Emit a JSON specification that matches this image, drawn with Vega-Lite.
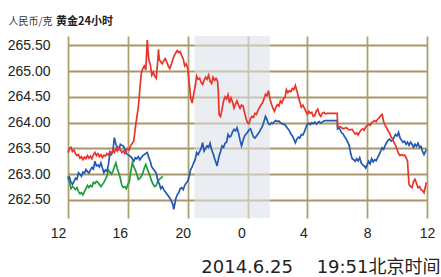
{
  "$schema": "https://vega.github.io/schema/vega-lite/v6.json",
  "width": 359,
  "height": 182,
  "autosize": "none",
  "padding": {"left": 68, "top": 36, "right": 14, "bottom": 59},
  "background": "white",
  "title": {"text": "黄金24小时", "anchor": "start", "frame": "group", "dx": -12, "dy": 32, "offset": 10, "fontSize": 11, "fontWeight": "bold", "font": "Noto Sans CJK SC", "color": "#222", "baseline": "bottom"},
  "config": {"view": {"stroke": null}},
  "datasets": {
    "band": [{"h": 20.45, "h2": 25.5}],
    "series": [
      {"s":"green","h":12.0,"v":262.96},{"s":"green","h":12.07,"v":262.87},{"s":"green","h":12.2,"v":262.72},{"s":"green","h":12.3,"v":262.76},{"s":"green","h":12.4,"v":262.74},{"s":"green","h":12.5,"v":262.70},{"s":"green","h":12.6,"v":262.74},{"s":"green","h":12.7,"v":262.66},{"s":"green","h":12.8,"v":262.62},{"s":"green","h":12.9,"v":262.64},{"s":"green","h":13.0,"v":262.60},{"s":"green","h":13.1,"v":262.66},{"s":"green","h":13.2,"v":262.72},{"s":"green","h":13.3,"v":262.78},{"s":"green","h":13.4,"v":262.74},{"s":"green","h":13.5,"v":262.78},{"s":"green","h":13.6,"v":262.76},{"s":"green","h":13.7,"v":262.84},{"s":"green","h":13.8,"v":262.82},{"s":"green","h":13.9,"v":262.86},{"s":"green","h":14.0,"v":262.84},{"s":"green","h":14.1,"v":262.80},{"s":"green","h":14.2,"v":262.76},{"s":"green","h":14.3,"v":262.80},{"s":"green","h":14.4,"v":262.84},{"s":"green","h":14.5,"v":262.90},{"s":"green","h":14.6,"v":262.96},{"s":"green","h":14.7,"v":263.08},{"s":"green","h":14.8,"v":263.04},{"s":"green","h":14.9,"v":263.00},{"s":"green","h":15.0,"v":263.06},{"s":"green","h":15.1,"v":263.14},{"s":"green","h":15.2,"v":263.22},{"s":"green","h":15.3,"v":263.10},{"s":"green","h":15.4,"v":263.02},{"s":"green","h":15.5,"v":262.92},{"s":"green","h":15.6,"v":262.78},{"s":"green","h":15.7,"v":262.74},{"s":"green","h":15.8,"v":262.76},{"s":"green","h":15.9,"v":262.72},{"s":"green","h":16.0,"v":262.80},{"s":"green","h":16.1,"v":262.86},{"s":"green","h":16.2,"v":263.06},{"s":"green","h":16.3,"v":263.22},{"s":"green","h":16.4,"v":263.14},{"s":"green","h":16.5,"v":263.08},{"s":"green","h":16.6,"v":263.00},{"s":"green","h":16.7,"v":262.90},{"s":"green","h":16.8,"v":262.92},{"s":"green","h":16.9,"v":262.96},{"s":"green","h":17.0,"v":263.02},{"s":"green","h":17.1,"v":263.12},{"s":"green","h":17.2,"v":263.19},{"s":"green","h":17.3,"v":263.10},{"s":"green","h":17.4,"v":263.03},{"s":"green","h":17.5,"v":262.95},{"s":"green","h":17.6,"v":262.86},{"s":"green","h":17.7,"v":262.80},{"s":"green","h":17.8,"v":262.76},{"s":"green","h":17.9,"v":262.78},{"s":"green","h":18.0,"v":262.86},{"s":"green","h":18.1,"v":262.90},{"s":"green","h":18.2,"v":262.92},{"s":"green","h":18.33,"v":262.96},

      {"s":"blue","h":12.0,"v":262.90},{"s":"blue","h":12.1,"v":262.94},{"s":"blue","h":12.2,"v":262.84},{"s":"blue","h":12.3,"v":262.80},{"s":"blue","h":12.4,"v":262.86},{"s":"blue","h":12.5,"v":262.92},{"s":"blue","h":12.6,"v":262.90},{"s":"blue","h":12.7,"v":263.03},{"s":"blue","h":12.8,"v":263.00},{"s":"blue","h":12.9,"v":262.96},{"s":"blue","h":13.0,"v":263.04},{"s":"blue","h":13.1,"v":263.02},{"s":"blue","h":13.2,"v":263.09},{"s":"blue","h":13.3,"v":263.05},{"s":"blue","h":13.4,"v":263.02},{"s":"blue","h":13.5,"v":263.08},{"s":"blue","h":13.6,"v":263.13},{"s":"blue","h":13.7,"v":263.10},{"s":"blue","h":13.8,"v":263.25},{"s":"blue","h":13.9,"v":263.16},{"s":"blue","h":14.0,"v":263.18},{"s":"blue","h":14.1,"v":263.14},{"s":"blue","h":14.2,"v":263.22},{"s":"blue","h":14.3,"v":263.12},{"s":"blue","h":14.4,"v":263.03},{"s":"blue","h":14.5,"v":263.08},{"s":"blue","h":14.6,"v":263.06},{"s":"blue","h":14.7,"v":263.18},{"s":"blue","h":14.8,"v":263.40},{"s":"blue","h":14.9,"v":263.38},{"s":"blue","h":15.0,"v":263.45},{"s":"blue","h":15.1,"v":263.71},{"s":"blue","h":15.2,"v":263.58},{"s":"blue","h":15.3,"v":263.52},{"s":"blue","h":15.4,"v":263.48},{"s":"blue","h":15.5,"v":263.58},{"s":"blue","h":15.6,"v":263.56},{"s":"blue","h":15.7,"v":263.55},{"s":"blue","h":15.8,"v":263.48},{"s":"blue","h":15.9,"v":263.40},{"s":"blue","h":16.0,"v":263.38},{"s":"blue","h":16.1,"v":263.36},{"s":"blue","h":16.2,"v":263.34},{"s":"blue","h":16.3,"v":263.30},{"s":"blue","h":16.4,"v":263.25},{"s":"blue","h":16.5,"v":263.32},{"s":"blue","h":16.6,"v":263.30},{"s":"blue","h":16.7,"v":263.34},{"s":"blue","h":16.8,"v":263.28},{"s":"blue","h":16.9,"v":263.32},{"s":"blue","h":17.0,"v":263.36},{"s":"blue","h":17.1,"v":263.38},{"s":"blue","h":17.2,"v":263.40},{"s":"blue","h":17.3,"v":263.42},{"s":"blue","h":17.4,"v":263.32},{"s":"blue","h":17.5,"v":263.25},{"s":"blue","h":17.6,"v":263.14},{"s":"blue","h":17.7,"v":263.10},{"s":"blue","h":17.8,"v":263.06},{"s":"blue","h":17.9,"v":263.02},{"s":"blue","h":18.0,"v":262.88},{"s":"blue","h":18.1,"v":262.82},{"s":"blue","h":18.2,"v":262.72},{"s":"blue","h":18.3,"v":262.76},{"s":"blue","h":18.4,"v":262.70},{"s":"blue","h":18.5,"v":262.66},{"s":"blue","h":18.6,"v":262.62},{"s":"blue","h":18.7,"v":262.58},{"s":"blue","h":18.8,"v":262.54},{"s":"blue","h":18.9,"v":262.48},{"s":"blue","h":19.0,"v":262.42},{"s":"blue","h":19.07,"v":262.32},{"s":"blue","h":19.15,"v":262.44},{"s":"blue","h":19.2,"v":262.52},{"s":"blue","h":19.3,"v":262.60},{"s":"blue","h":19.4,"v":262.64},{"s":"blue","h":19.5,"v":262.72},{"s":"blue","h":19.6,"v":262.74},{"s":"blue","h":19.7,"v":262.70},{"s":"blue","h":19.8,"v":262.78},{"s":"blue","h":19.9,"v":262.83},{"s":"blue","h":20.0,"v":262.86},{"s":"blue","h":20.1,"v":262.96},{"s":"blue","h":20.2,"v":263.09},{"s":"blue","h":20.3,"v":263.14},{"s":"blue","h":20.4,"v":263.22},{"s":"blue","h":20.5,"v":263.28},{"s":"blue","h":20.6,"v":263.42},{"s":"blue","h":20.7,"v":263.38},{"s":"blue","h":20.8,"v":263.44},{"s":"blue","h":20.9,"v":263.50},{"s":"blue","h":21.0,"v":263.61},{"s":"blue","h":21.1,"v":263.45},{"s":"blue","h":21.2,"v":263.50},{"s":"blue","h":21.3,"v":263.55},{"s":"blue","h":21.4,"v":263.52},{"s":"blue","h":21.5,"v":263.60},{"s":"blue","h":21.6,"v":263.48},{"s":"blue","h":21.7,"v":263.40},{"s":"blue","h":21.8,"v":263.30},{"s":"blue","h":21.9,"v":263.22},{"s":"blue","h":21.96,"v":263.16},{"s":"blue","h":22.1,"v":263.35},{"s":"blue","h":22.2,"v":263.44},{"s":"blue","h":22.3,"v":263.55},{"s":"blue","h":22.4,"v":263.52},{"s":"blue","h":22.5,"v":263.60},{"s":"blue","h":22.6,"v":263.62},{"s":"blue","h":22.7,"v":263.77},{"s":"blue","h":22.8,"v":263.72},{"s":"blue","h":22.9,"v":263.74},{"s":"blue","h":23.0,"v":263.82},{"s":"blue","h":23.1,"v":263.87},{"s":"blue","h":23.2,"v":263.84},{"s":"blue","h":23.3,"v":263.90},{"s":"blue","h":23.4,"v":263.80},{"s":"blue","h":23.5,"v":263.66},{"s":"blue","h":23.6,"v":263.55},{"s":"blue","h":23.7,"v":263.65},{"s":"blue","h":23.8,"v":263.74},{"s":"blue","h":23.9,"v":263.78},{"s":"blue","h":24.0,"v":263.81},{"s":"blue","h":24.1,"v":263.86},{"s":"blue","h":24.2,"v":263.88},{"s":"blue","h":24.3,"v":263.80},{"s":"blue","h":24.4,"v":263.72},{"s":"blue","h":24.5,"v":263.70},{"s":"blue","h":24.6,"v":263.74},{"s":"blue","h":24.7,"v":263.78},{"s":"blue","h":24.8,"v":263.82},{"s":"blue","h":24.9,"v":263.88},{"s":"blue","h":25.0,"v":263.93},{"s":"blue","h":25.1,"v":264.02},{"s":"blue","h":25.2,"v":264.12},{"s":"blue","h":25.3,"v":264.06},{"s":"blue","h":25.4,"v":263.98},{"s":"blue","h":25.5,"v":263.96},{"s":"blue","h":25.6,"v":264.00},{"s":"blue","h":25.7,"v":263.98},{"s":"blue","h":25.8,"v":264.02},{"s":"blue","h":25.9,"v":264.04},{"s":"blue","h":26.0,"v":264.02},{"s":"blue","h":26.1,"v":264.03},{"s":"blue","h":26.2,"v":264.00},{"s":"blue","h":26.3,"v":263.98},{"s":"blue","h":26.4,"v":263.97},{"s":"blue","h":26.5,"v":263.96},{"s":"blue","h":26.6,"v":263.92},{"s":"blue","h":26.7,"v":263.88},{"s":"blue","h":26.8,"v":263.84},{"s":"blue","h":26.9,"v":263.78},{"s":"blue","h":27.0,"v":263.74},{"s":"blue","h":27.1,"v":263.68},{"s":"blue","h":27.2,"v":263.61},{"s":"blue","h":27.3,"v":263.68},{"s":"blue","h":27.4,"v":263.72},{"s":"blue","h":27.5,"v":263.70},{"s":"blue","h":27.6,"v":263.77},{"s":"blue","h":27.7,"v":263.76},{"s":"blue","h":27.8,"v":263.82},{"s":"blue","h":27.9,"v":263.90},{"s":"blue","h":28.0,"v":263.97},{"s":"blue","h":28.1,"v":263.99},{"s":"blue","h":28.2,"v":263.96},{"s":"blue","h":28.3,"v":264.00},{"s":"blue","h":28.4,"v":263.98},{"s":"blue","h":28.5,"v":264.01},{"s":"blue","h":28.6,"v":263.97},{"s":"blue","h":28.7,"v":264.00},{"s":"blue","h":28.8,"v":264.02},{"s":"blue","h":28.9,"v":263.99},{"s":"blue","h":29.0,"v":264.01},{"s":"blue","h":29.1,"v":264.03},{"s":"blue","h":29.2,"v":264.04},{"s":"blue","h":30.0,"v":264.04},{"s":"blue","h":30.02,"v":263.88},{"s":"blue","h":30.1,"v":263.90},{"s":"blue","h":30.2,"v":263.86},{"s":"blue","h":30.3,"v":263.80},{"s":"blue","h":30.4,"v":263.78},{"s":"blue","h":30.5,"v":263.72},{"s":"blue","h":30.6,"v":263.68},{"s":"blue","h":30.7,"v":263.62},{"s":"blue","h":30.8,"v":263.56},{"s":"blue","h":30.9,"v":263.40},{"s":"blue","h":31.0,"v":263.30},{"s":"blue","h":31.1,"v":263.28},{"s":"blue","h":31.2,"v":263.25},{"s":"blue","h":31.3,"v":263.30},{"s":"blue","h":31.4,"v":263.26},{"s":"blue","h":31.5,"v":263.32},{"s":"blue","h":31.6,"v":263.22},{"s":"blue","h":31.7,"v":263.18},{"s":"blue","h":31.8,"v":263.16},{"s":"blue","h":31.9,"v":263.12},{"s":"blue","h":32.0,"v":263.18},{"s":"blue","h":32.1,"v":263.25},{"s":"blue","h":32.2,"v":263.20},{"s":"blue","h":32.3,"v":263.30},{"s":"blue","h":32.4,"v":263.24},{"s":"blue","h":32.5,"v":263.28},{"s":"blue","h":32.6,"v":263.26},{"s":"blue","h":32.7,"v":263.32},{"s":"blue","h":32.8,"v":263.38},{"s":"blue","h":32.9,"v":263.44},{"s":"blue","h":33.0,"v":263.51},{"s":"blue","h":33.1,"v":263.48},{"s":"blue","h":33.2,"v":263.56},{"s":"blue","h":33.3,"v":263.61},{"s":"blue","h":33.4,"v":263.66},{"s":"blue","h":33.5,"v":263.68},{"s":"blue","h":33.6,"v":263.64},{"s":"blue","h":33.7,"v":263.66},{"s":"blue","h":33.8,"v":263.72},{"s":"blue","h":33.9,"v":263.77},{"s":"blue","h":34.0,"v":263.74},{"s":"blue","h":34.1,"v":263.81},{"s":"blue","h":34.2,"v":263.70},{"s":"blue","h":34.3,"v":263.66},{"s":"blue","h":34.4,"v":263.62},{"s":"blue","h":34.5,"v":263.64},{"s":"blue","h":34.6,"v":263.58},{"s":"blue","h":34.7,"v":263.62},{"s":"blue","h":34.8,"v":263.56},{"s":"blue","h":34.9,"v":263.62},{"s":"blue","h":35.0,"v":263.58},{"s":"blue","h":35.1,"v":263.52},{"s":"blue","h":35.2,"v":263.58},{"s":"blue","h":35.3,"v":263.54},{"s":"blue","h":35.4,"v":263.60},{"s":"blue","h":35.5,"v":263.52},{"s":"blue","h":35.6,"v":263.54},{"s":"blue","h":35.7,"v":263.44},{"s":"blue","h":35.8,"v":263.38},{"s":"blue","h":35.9,"v":263.44},{"s":"blue","h":35.96,"v":263.48},

      {"s":"red","h":12.0,"v":263.42},{"s":"red","h":12.1,"v":263.50},{"s":"red","h":12.2,"v":263.52},{"s":"red","h":12.3,"v":263.44},{"s":"red","h":12.4,"v":263.47},{"s":"red","h":12.5,"v":263.40},{"s":"red","h":12.6,"v":263.36},{"s":"red","h":12.7,"v":263.38},{"s":"red","h":12.8,"v":263.31},{"s":"red","h":12.9,"v":263.34},{"s":"red","h":13.0,"v":263.28},{"s":"red","h":13.1,"v":263.33},{"s":"red","h":13.2,"v":263.30},{"s":"red","h":13.3,"v":263.36},{"s":"red","h":13.4,"v":263.31},{"s":"red","h":13.5,"v":263.35},{"s":"red","h":13.6,"v":263.30},{"s":"red","h":13.7,"v":263.38},{"s":"red","h":13.8,"v":263.42},{"s":"red","h":13.9,"v":263.36},{"s":"red","h":14.0,"v":263.40},{"s":"red","h":14.1,"v":263.34},{"s":"red","h":14.2,"v":263.38},{"s":"red","h":14.3,"v":263.32},{"s":"red","h":14.4,"v":263.37},{"s":"red","h":14.5,"v":263.35},{"s":"red","h":14.6,"v":263.40},{"s":"red","h":14.7,"v":263.37},{"s":"red","h":14.8,"v":263.44},{"s":"red","h":14.9,"v":263.40},{"s":"red","h":15.0,"v":263.47},{"s":"red","h":15.1,"v":263.42},{"s":"red","h":15.2,"v":263.50},{"s":"red","h":15.3,"v":263.45},{"s":"red","h":15.4,"v":263.52},{"s":"red","h":15.5,"v":263.48},{"s":"red","h":15.6,"v":263.42},{"s":"red","h":15.7,"v":263.45},{"s":"red","h":15.8,"v":263.40},{"s":"red","h":15.9,"v":263.46},{"s":"red","h":16.0,"v":263.50},{"s":"red","h":16.1,"v":263.47},{"s":"red","h":16.2,"v":263.56},{"s":"red","h":16.3,"v":263.60},{"s":"red","h":16.4,"v":263.65},{"s":"red","h":16.5,"v":263.90},{"s":"red","h":16.6,"v":264.10},{"s":"red","h":16.7,"v":264.30},{"s":"red","h":16.75,"v":264.45},{"s":"red","h":16.8,"v":264.64},{"s":"red","h":16.9,"v":264.96},{"s":"red","h":17.0,"v":265.05},{"s":"red","h":17.1,"v":265.10},{"s":"red","h":17.2,"v":265.02},{"s":"red","h":17.25,"v":265.30},{"s":"red","h":17.3,"v":265.60},{"s":"red","h":17.35,"v":265.40},{"s":"red","h":17.4,"v":265.22},{"s":"red","h":17.5,"v":265.13},{"s":"red","h":17.6,"v":264.92},{"s":"red","h":17.7,"v":264.98},{"s":"red","h":17.8,"v":264.90},{"s":"red","h":17.9,"v":264.86},{"s":"red","h":18.0,"v":265.20},{"s":"red","h":18.05,"v":265.42},{"s":"red","h":18.1,"v":265.22},{"s":"red","h":18.2,"v":265.18},{"s":"red","h":18.3,"v":265.14},{"s":"red","h":18.4,"v":265.20},{"s":"red","h":18.5,"v":265.24},{"s":"red","h":18.6,"v":265.18},{"s":"red","h":18.7,"v":265.10},{"s":"red","h":18.8,"v":265.05},{"s":"red","h":18.9,"v":265.12},{"s":"red","h":19.0,"v":265.22},{"s":"red","h":19.1,"v":265.30},{"s":"red","h":19.2,"v":265.35},{"s":"red","h":19.3,"v":265.40},{"s":"red","h":19.4,"v":265.36},{"s":"red","h":19.5,"v":265.38},{"s":"red","h":19.6,"v":265.30},{"s":"red","h":19.7,"v":265.24},{"s":"red","h":19.8,"v":265.10},{"s":"red","h":19.9,"v":265.14},{"s":"red","h":20.0,"v":265.06},{"s":"red","h":20.1,"v":264.78},{"s":"red","h":20.2,"v":264.48},{"s":"red","h":20.3,"v":264.38},{"s":"red","h":20.4,"v":264.55},{"s":"red","h":20.5,"v":264.70},{"s":"red","h":20.6,"v":264.90},{"s":"red","h":20.7,"v":264.84},{"s":"red","h":20.8,"v":264.86},{"s":"red","h":20.9,"v":264.78},{"s":"red","h":21.0,"v":264.74},{"s":"red","h":21.1,"v":264.82},{"s":"red","h":21.2,"v":264.88},{"s":"red","h":21.3,"v":264.84},{"s":"red","h":21.4,"v":264.92},{"s":"red","h":21.5,"v":264.80},{"s":"red","h":21.6,"v":264.76},{"s":"red","h":21.7,"v":264.88},{"s":"red","h":21.8,"v":264.82},{"s":"red","h":21.9,"v":264.86},{"s":"red","h":22.0,"v":264.80},{"s":"red","h":22.05,"v":264.60},{"s":"red","h":22.1,"v":264.16},{"s":"red","h":22.2,"v":264.12},{"s":"red","h":22.3,"v":264.26},{"s":"red","h":22.4,"v":264.42},{"s":"red","h":22.5,"v":264.50},{"s":"red","h":22.6,"v":264.46},{"s":"red","h":22.7,"v":264.54},{"s":"red","h":22.8,"v":264.38},{"s":"red","h":22.9,"v":264.48},{"s":"red","h":23.0,"v":264.40},{"s":"red","h":23.1,"v":264.28},{"s":"red","h":23.2,"v":264.36},{"s":"red","h":23.3,"v":264.42},{"s":"red","h":23.4,"v":264.34},{"s":"red","h":23.5,"v":264.28},{"s":"red","h":23.6,"v":264.34},{"s":"red","h":23.7,"v":264.32},{"s":"red","h":23.8,"v":264.20},{"s":"red","h":23.9,"v":264.08},{"s":"red","h":24.0,"v":264.00},{"s":"red","h":24.1,"v":263.98},{"s":"red","h":24.2,"v":264.08},{"s":"red","h":24.3,"v":264.12},{"s":"red","h":24.4,"v":264.10},{"s":"red","h":24.5,"v":264.18},{"s":"red","h":24.6,"v":264.16},{"s":"red","h":24.7,"v":264.24},{"s":"red","h":24.8,"v":264.29},{"s":"red","h":24.9,"v":264.34},{"s":"red","h":25.0,"v":264.38},{"s":"red","h":25.1,"v":264.46},{"s":"red","h":25.2,"v":264.55},{"s":"red","h":25.3,"v":264.52},{"s":"red","h":25.4,"v":264.62},{"s":"red","h":25.5,"v":264.46},{"s":"red","h":25.6,"v":264.36},{"s":"red","h":25.7,"v":264.28},{"s":"red","h":25.8,"v":264.22},{"s":"red","h":25.9,"v":264.30},{"s":"red","h":26.0,"v":264.35},{"s":"red","h":26.1,"v":264.32},{"s":"red","h":26.2,"v":264.42},{"s":"red","h":26.3,"v":264.38},{"s":"red","h":26.4,"v":264.46},{"s":"red","h":26.5,"v":264.48},{"s":"red","h":26.6,"v":264.64},{"s":"red","h":26.7,"v":264.58},{"s":"red","h":26.8,"v":264.62},{"s":"red","h":26.9,"v":264.60},{"s":"red","h":27.0,"v":264.66},{"s":"red","h":27.1,"v":264.64},{"s":"red","h":27.2,"v":264.72},{"s":"red","h":27.3,"v":264.62},{"s":"red","h":27.4,"v":264.50},{"s":"red","h":27.5,"v":264.40},{"s":"red","h":27.6,"v":264.30},{"s":"red","h":27.7,"v":264.34},{"s":"red","h":27.8,"v":264.28},{"s":"red","h":27.9,"v":264.22},{"s":"red","h":28.0,"v":264.16},{"s":"red","h":28.1,"v":264.22},{"s":"red","h":28.2,"v":264.18},{"s":"red","h":28.3,"v":264.20},{"s":"red","h":28.4,"v":264.12},{"s":"red","h":28.5,"v":264.14},{"s":"red","h":28.6,"v":264.22},{"s":"red","h":28.7,"v":264.26},{"s":"red","h":28.8,"v":264.16},{"s":"red","h":28.9,"v":264.12},{"s":"red","h":29.0,"v":264.18},{"s":"red","h":29.1,"v":264.20},{"s":"red","h":29.2,"v":264.17},{"s":"red","h":29.3,"v":264.18},{"s":"red","h":30.0,"v":264.18},{"s":"red","h":30.02,"v":263.93},{"s":"red","h":30.2,"v":263.92},{"s":"red","h":30.4,"v":263.88},{"s":"red","h":30.6,"v":263.90},{"s":"red","h":30.8,"v":263.86},{"s":"red","h":31.0,"v":263.87},{"s":"red","h":31.1,"v":263.82},{"s":"red","h":31.2,"v":263.78},{"s":"red","h":31.3,"v":263.80},{"s":"red","h":31.4,"v":263.76},{"s":"red","h":31.5,"v":263.82},{"s":"red","h":31.6,"v":263.86},{"s":"red","h":31.7,"v":263.88},{"s":"red","h":31.8,"v":263.85},{"s":"red","h":31.9,"v":263.92},{"s":"red","h":32.0,"v":263.94},{"s":"red","h":32.1,"v":263.97},{"s":"red","h":32.2,"v":263.95},{"s":"red","h":32.3,"v":264.00},{"s":"red","h":32.4,"v":264.02},{"s":"red","h":32.5,"v":264.04},{"s":"red","h":32.6,"v":264.02},{"s":"red","h":32.7,"v":264.07},{"s":"red","h":32.8,"v":264.09},{"s":"red","h":32.9,"v":264.13},{"s":"red","h":33.0,"v":264.16},{"s":"red","h":33.05,"v":264.10},{"s":"red","h":33.1,"v":264.02},{"s":"red","h":33.2,"v":263.95},{"s":"red","h":33.3,"v":263.90},{"s":"red","h":33.4,"v":263.84},{"s":"red","h":33.5,"v":263.80},{"s":"red","h":33.6,"v":263.72},{"s":"red","h":33.7,"v":263.68},{"s":"red","h":33.8,"v":263.61},{"s":"red","h":33.9,"v":263.56},{"s":"red","h":34.0,"v":263.48},{"s":"red","h":34.1,"v":263.40},{"s":"red","h":34.2,"v":263.36},{"s":"red","h":34.3,"v":263.38},{"s":"red","h":34.4,"v":263.36},{"s":"red","h":34.5,"v":263.37},{"s":"red","h":34.6,"v":263.32},{"s":"red","h":34.7,"v":263.25},{"s":"red","h":34.75,"v":263.00},{"s":"red","h":34.8,"v":262.80},{"s":"red","h":34.9,"v":262.76},{"s":"red","h":35.0,"v":262.74},{"s":"red","h":35.1,"v":262.86},{"s":"red","h":35.2,"v":262.90},{"s":"red","h":35.3,"v":262.82},{"s":"red","h":35.4,"v":262.74},{"s":"red","h":35.5,"v":262.76},{"s":"red","h":35.6,"v":262.70},{"s":"red","h":35.7,"v":262.68},{"s":"red","h":35.8,"v":262.64},{"s":"red","h":35.9,"v":262.76},{"s":"red","h":35.95,"v":262.84}
    ]
  },
  "layer": [
    {
      "data": {"name": "band"},
      "mark": {"type": "rect", "color": "#dce1e7", "opacity": 0.6},
      "encoding": {
        "x": {"field": "h", "type": "quantitative", "scale": {"domain": [12, 36], "nice": false, "zero": false},
          "axis": {"values": [12,14,16,18,20,22,24,26,28,30,32,34,36], "grid": true, "gridColor": "#aaa36f", "gridWidth": 1.8, "domain": false, "ticks": false,
            "labelExpr": "datum.value % 4 == 0 ? '' + (datum.value % 24) : ''", "labelFontSize": 14, "labelFont": "Liberation Sans", "labelColor": "#222", "labelPadding": 8, "labelFlush": false, "labelOverlap": false,
            "labelOffset": {"condition": [{"test": "datum.value == 12", "value": -10}, {"test": "datum.value == 16", "value": -8}, {"test": "datum.value == 20", "value": -5}, {"test": "datum.value == 24", "value": -6}, {"test": "datum.value == 28", "value": -4}], "value": 0},
            "title": "2014.6.25\u2003 19:51北京时间", "titleX": 372, "titleY": 49, "titleAlign": "right", "titleBaseline": "middle", "titleFont": "DejaVu Sans, Noto Sans CJK SC", "titleFontSize": 18, "titleFontWeight": "normal", "titleColor": "#222"}},
        "x2": {"field": "h2"}
      }
    },
    {
      "data": {"name": "series"},
      "mark": {"type": "line", "strokeWidth": 1.7},
      "encoding": {
        "x": {"field": "h", "type": "quantitative"},
        "y": {"field": "v", "type": "quantitative", "scale": {"domain": [262.15, 265.68], "nice": false, "zero": false},
          "axis": {"values": [262.5,263,263.5,264,264.5,265,265.5], "format": ".2f", "grid": true, "gridColor": "#ab9568", "gridWidth": 1.8, "domain": false, "ticks": false,
            "labelFontSize": 14, "labelFont": "Liberation Sans", "labelColor": "#222", "labelPadding": 18,
            "title": "人民币/克", "titleAngle": 0, "titleX": -60, "titleY": -15, "titleAlign": "left", "titleBaseline": "middle", "titleFont": "Noto Sans CJK SC", "titleFontSize": 10, "titleFontWeight": "normal", "titleColor": "#333"}},
        "color": {"field": "s", "type": "nominal", "scale": {"domain": ["red", "blue", "green"], "range": ["#e8352a", "#2159b4", "#1e9c3c"]}, "legend": null},
        "order": {"field": "h", "type": "quantitative"}
      }
    }
  ]
}
